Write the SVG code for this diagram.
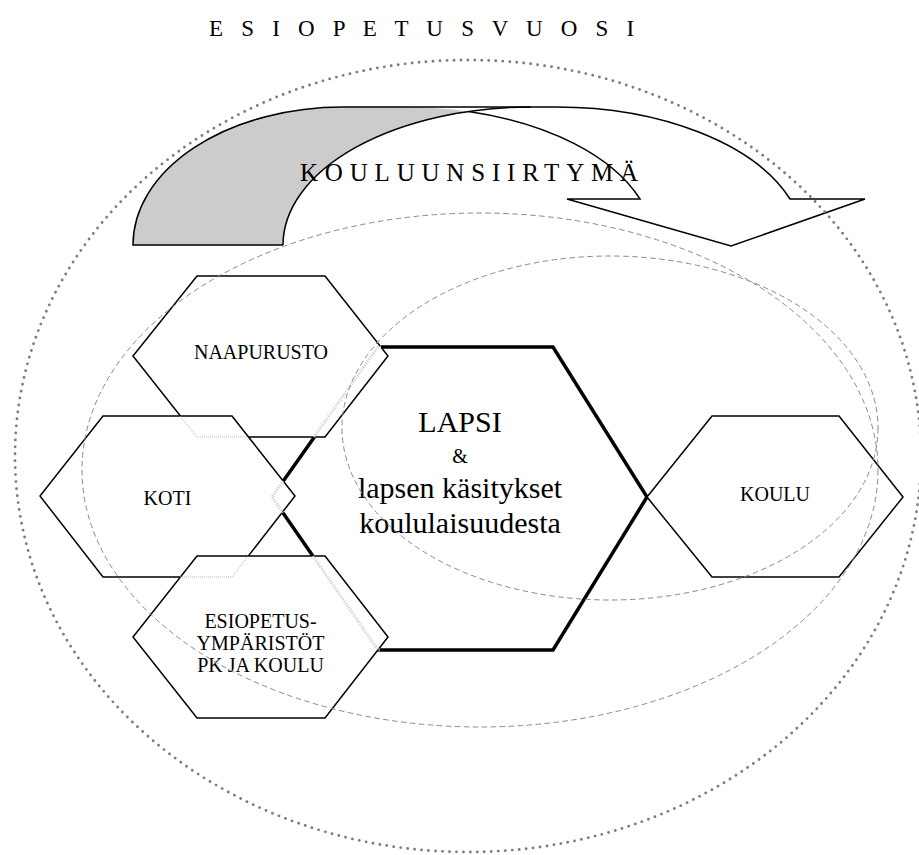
<svg xmlns="http://www.w3.org/2000/svg" width="919" height="855" viewBox="0 0 919 855">
<style>
  .hex{fill:#fff;stroke:#000;stroke-width:1.5;stroke-linejoin:miter}
  .hexc{fill:#fff;stroke:#000;stroke-width:3.5;stroke-linejoin:miter}
  .lbl{font-family:"Liberation Serif","Times New Roman",serif;font-size:20px;fill:#000;text-anchor:middle}
  .big{font-family:"Liberation Serif","Times New Roman",serif;font-size:30px;fill:#000;text-anchor:middle}
  .dash{fill:none;stroke:#8a8a8a;stroke-width:1;stroke-dasharray:5.5 3.5}
  .dot{fill:none;stroke:#7d7d7d;stroke-width:2.9;stroke-dasharray:0 7;stroke-linecap:round}
  .hid{fill:none;stroke:#b5b5b5;stroke-width:1;stroke-dasharray:1 1}
  .hidc{fill:none;stroke:#c8c8c8;stroke-width:3;stroke-dasharray:1 1.5}
  .arr{fill:none;stroke:#000;stroke-width:1.5;stroke-linejoin:miter}
</style>
<rect width="919" height="855" fill="#fff"/>
<text id="title" x="209" y="36" font-family="Liberation Serif, Times New Roman, serif" font-size="23" letter-spacing="6.2">E S I O P E T U S V U O S I</text>

<g id="connectors">
  <g id="transition-arrow">
    <path d="M406,107 L556,107 A248,138 0 0 1 790,199 L865,199 L731,246 L567,199 L640,199 A248,138 0 0 0 406,107 Z" fill="#fff"/>
    <path d="M133,245 A210,138 0 0 1 343,107 L406,107 A248,138 0 0 1 468.5,111.5 A248,138 0 0 0 283,245 Z" fill="#ccc"/>
    <path class="arr" d="M283,245 L133,245 A210,138 0 0 1 343,107 L556,107 A248,138 0 0 1 790,199 L865,199 L731,246 L567,199 L640,199 A248,138 0 0 0 468.5,111.5"/>
    <path class="arr" d="M283,245 A248,138 0 0 1 531,107"/>
    <text x="300" y="181" font-family="Liberation Serif, Times New Roman, serif" font-size="25" letter-spacing="6.8">KOULUUNSIIRTYMÄ</text>
  </g>
</g>

<g id="lapsi">
  <polygon class="hexc" points="378,347 553,347 647,497 553,650 378,650 272,497"/>
  <text class="big" x="460" y="432">LAPSI</text>
  <text class="lbl" x="460" y="463" font-size="22">&amp;</text>
  <text class="big" x="460" y="498">lapsen käsitykset</text>
  <text class="big" x="460" y="533">koululaisuudesta</text>
</g>
<g id="naapurusto">
  <polygon class="hex" points="197,276 325,276 388,356 325,437 197,437 133,356"/>
  <text class="lbl" x="261" y="359">NAAPURUSTO</text>
</g>
<g id="koti">
  <polygon class="hex" points="103,416 232,416 295,496 232,577 103,577 40,496"/>
  <text class="lbl" x="167.5" y="505">KOTI</text>
</g>
<g id="esiopetus">
  <polygon class="hex" points="197,556 325,556 388,637 325,718 197,718 133,637"/>
  <text class="lbl" x="260.5" y="628">ESIOPETUS-</text>
  <text class="lbl" x="260.5" y="650">YMPÄRISTÖT</text>
  <text class="lbl" x="260.5" y="672">PK JA KOULU</text>
</g>
<g id="koulu">
  <polygon class="hex" points="712,416 839,416 903,497 839,577 712,577 647,497"/>
  <text class="lbl" x="775" y="501">KOULU</text>
</g>

<g id="hidden-edges">
  <polyline class="hid" points="180,416 197,437 248,437"/>
  <polyline class="hid" points="180,577 232,577 248,556"/>
  <polyline class="hidc" points="381,347 378,347 314,437"/>
  <polyline class="hidc" points="283,481 272,497 283,513"/>
  <polyline class="hidc" points="313,556 378,650 380,650"/>
</g>

<g id="circles">
  <ellipse class="dash" cx="480" cy="470" rx="398" ry="257"/>
  <ellipse class="dash" cx="610" cy="428" rx="268" ry="172"/>
  <ellipse class="dot" cx="468" cy="456" rx="453" ry="396"/>
</g>
</svg>
